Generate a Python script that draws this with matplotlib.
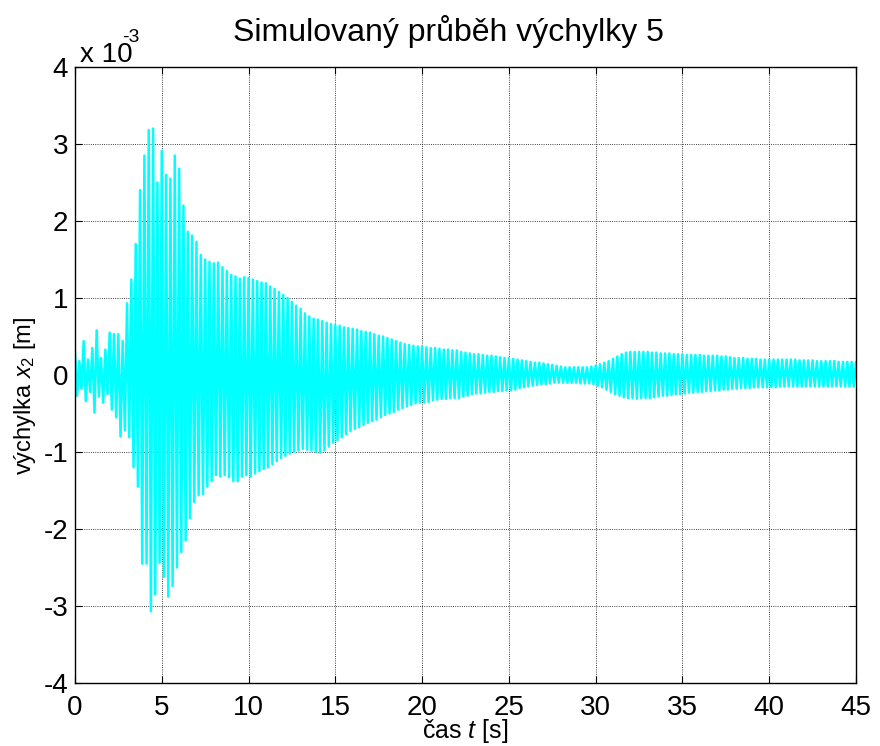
import matplotlib
matplotlib.use("Agg")
import matplotlib.pyplot as plt
import numpy as np

plt.rcParams['font.family'] = ['Liberation Sans', 'DejaVu Sans']
plt.rcParams['mathtext.fontset'] = 'custom'
plt.rcParams['mathtext.rm'] = 'Liberation Sans'
plt.rcParams['mathtext.it'] = 'Liberation Sans:italic'
plt.rcParams['axes.unicode_minus'] = False

# displacement x2 envelope, in 1e-3 m, every 0.25 s
t_step = 0.25
x2_peak = [
    0.30, 0.18, 0.44, 0.20, 0.35, 0.58, 0.22, 0.33, 0.55, 0.53, 0.53, 0.44,   # 0 - 2.75
    0.93, 1.24, 1.70, 2.40, 2.85, 3.18, 3.20, 2.50, 2.91, 2.60, 2.55, 2.85,   # 3 - 5.75
    2.68, 2.20, 1.86, 1.81, 1.73, 1.56, 1.50, 1.47, 1.45, 1.46, 1.40, 1.35,   # 6 - 8.75
    1.30, 1.28, 1.25, 1.27, 1.26, 1.24, 1.22, 1.20, 1.19, 1.15, 1.12, 1.08,   # 9 - 11.75
    1.04, 1.00, 0.95, 0.90, 0.86, 0.80, 0.76, 0.73, 0.72, 0.70, 0.68, 0.66,   # 12 - 14.75
    0.65, 0.64, 0.62, 0.61, 0.60, 0.59, 0.57, 0.56, 0.55, 0.53, 0.51, 0.50,   # 15 - 17.75
    0.48, 0.46, 0.44, 0.42, 0.40, 0.39, 0.38, 0.37, 0.37, 0.36, 0.35, 0.35,   # 18 - 20.75
    0.34, 0.33, 0.33, 0.32, 0.32, 0.30, 0.29, 0.28, 0.27, 0.27, 0.26, 0.25,   # 21 - 23.75
    0.25, 0.24, 0.23, 0.22, 0.22, 0.21, 0.20, 0.19, 0.18, 0.17, 0.16, 0.16,   # 24 - 26.75
    0.15, 0.14, 0.13, 0.12, 0.11, 0.10, 0.10, 0.10, 0.10, 0.10, 0.10, 0.11,   # 27 - 29.75
    0.12, 0.14, 0.16, 0.18, 0.21, 0.24, 0.27, 0.29, 0.30, 0.30, 0.30, 0.30,   # 30 - 32.75
    0.30, 0.29, 0.29, 0.28, 0.28, 0.28, 0.27, 0.27, 0.27, 0.26, 0.26, 0.26,   # 33 - 35.75
    0.26, 0.25, 0.25, 0.25, 0.25, 0.24, 0.24, 0.23, 0.22, 0.22, 0.22, 0.21,   # 36 - 38.75
    0.21, 0.21, 0.20, 0.20, 0.20, 0.20, 0.20, 0.20, 0.20, 0.20, 0.20, 0.19,   # 39 - 41.75
    0.19, 0.19, 0.19, 0.18, 0.18, 0.18, 0.18, 0.18, 0.17, 0.17, 0.17, 0.17,   # 42 - 44.75
    0.17,                                                                     # 45
]
x2_trough = [
    -0.27, -0.18, -0.34, -0.22, -0.49, -0.28, -0.36, -0.25, -0.45, -0.55, -0.80, -0.72,
    -0.81, -1.20, -1.45, -2.45, -2.45, -3.07, -2.85, -2.44, -2.62, -2.88, -2.74, -2.50,
    -2.30, -2.15, -1.86, -1.65, -1.56, -1.55, -1.45, -1.38, -1.30, -1.32, -1.30, -1.33,
    -1.38, -1.38, -1.32, -1.30, -1.32, -1.28, -1.25, -1.22, -1.20, -1.16, -1.12, -1.08,
    -1.05, -1.02, -1.00, -0.98, -0.96, -0.97, -0.98, -1.00, -1.01, -0.98, -0.93, -0.88,
    -0.85, -0.81, -0.77, -0.73, -0.70, -0.68, -0.65, -0.62, -0.60, -0.58, -0.55, -0.52,
    -0.50, -0.48, -0.45, -0.43, -0.41, -0.39, -0.37, -0.36, -0.36, -0.35, -0.33, -0.32,
    -0.31, -0.31, -0.30, -0.30, -0.30, -0.28, -0.27, -0.25, -0.24, -0.24, -0.23, -0.22,
    -0.22, -0.21, -0.21, -0.20, -0.20, -0.19, -0.17, -0.16, -0.15, -0.14, -0.13, -0.12,
    -0.12, -0.11, -0.10, -0.10, -0.10, -0.10, -0.10, -0.10, -0.11, -0.11, -0.11, -0.12,
    -0.14, -0.16, -0.19, -0.22, -0.25, -0.27, -0.29, -0.30, -0.30, -0.31, -0.30, -0.30,
    -0.30, -0.29, -0.28, -0.27, -0.27, -0.26, -0.25, -0.25, -0.24, -0.23, -0.23, -0.22,
    -0.22, -0.21, -0.21, -0.20, -0.20, -0.19, -0.19, -0.18, -0.18, -0.17, -0.17, -0.17,
    -0.16, -0.16, -0.16, -0.16, -0.16, -0.16, -0.15, -0.15, -0.15, -0.15, -0.15, -0.15,
    -0.15, -0.15, -0.15, -0.15, -0.15, -0.15, -0.15, -0.15, -0.15, -0.15, -0.15, -0.15,
    -0.15,
]
x_ticks = [0, 5, 10, 15, 20, 25, 30, 35, 40, 45]
y_ticks = [-4, -3, -2, -1, 0, 1, 2, 3, 4]

t_peak = np.arange(len(x2_peak)) * t_step
t_trough = t_peak + t_step / 2      # trough half a step after each peak
t = np.column_stack([t_peak, t_trough]).ravel()
x2 = np.column_stack([x2_peak, x2_trough]).ravel()

fig = plt.figure(figsize=(8.8, 7.46), dpi=100)
ax = fig.add_axes([0.0852, 0.0845, 0.8875, 0.8257])

ax.plot(t, x2, color='cyan', lw=1.8)

ax.set_xlim(0, 45)
ax.set_ylim(-4, 4)
ax.set_xticks(x_ticks)
ax.set_yticks(y_ticks)
ax.grid(True, color='k', linestyle=':', linewidth=0.6)
ax.tick_params(direction='in', length=5, width=0.8, top=True, right=True,
               labelsize=20)
ax.tick_params(axis='x', pad=9)
ax.tick_params(axis='y', pad=5)
for s in ax.spines.values():
    s.set_linewidth(1.0)

ax.set_xlabel('čas $t$ [s]', fontsize=18, labelpad=-3)
ax.set_ylabel('výchylka $x_2$ [m]', fontsize=17)
ax.yaxis.set_label_coords(-0.047, 0.466)
fig.text(448 / 880, 1 - 31 / 746, 'Simulovaný průběh výchylky 5', fontsize=23,
         ha='center', va='center')
fig.text(80 / 880, 1 - 62 / 746, 'x 10', fontsize=20, ha='left', va='baseline')
fig.text(122 / 880, 1 - 42 / 746, '-3', fontsize=14, ha='left', va='baseline')

fig.savefig('out.png', dpi=100)
